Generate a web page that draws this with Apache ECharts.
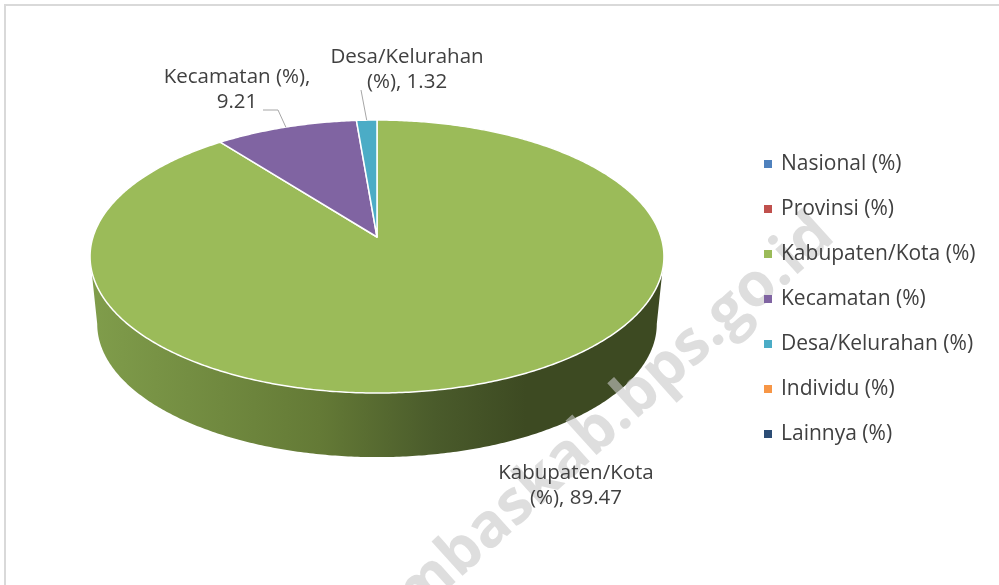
<!DOCTYPE html>
<html>
<head>
<meta charset="utf-8">
<script src="https://cdn.jsdelivr.net/npm/echarts@6/dist/echarts.min.js"></script>
<style>
  html, body { margin: 0; padding: 0; background: #fff; }
  #chart { width: 999px; height: 585px; }
</style>
</head>
<body>
<div id="chart"></div>
<script type="text/javascript">
  // data
  var categories = ['Nasional (%)', 'Provinsi (%)', 'Kabupaten/Kota (%)', 'Kecamatan (%)', 'Desa/Kelurahan (%)', 'Individu (%)', 'Lainnya (%)'];
  var shares = [0, 0, 89.47, 9.21, 1.32, 0, 0];
  var palette = ['#4f81bd', '#c0504d', '#9bbb59', '#8064a2', '#4bacc6', '#f79646', '#2c4d75'];

  // 3d pie geometry (screen px)
  var geo = { cx: 377, cy: 237, rx: 284, ry: 133.7, persp: 0.143, cyBottom: 305, kBottom: 0.975 };
  // data label placement: centre of text block, words on first line, leader start
  var labelLayout = {
    'Kabupaten/Kota (%)': { x: 576, y: 486, firstLine: 1 },
    'Kecamatan (%)': { x: 237, y: 90, firstLine: 2, line: [[263, 110], [278, 110]] },
    'Desa/Kelurahan (%)': { x: 407, y: 70, firstLine: 1, line: [[361, 90]] }
  };

  var total = shares.reduce(function (a, b) { return a + b; }, 0);
  var cum = [];
  var acc = 0;
  shares.forEach(function (v) { cum.push(acc); acc += v; });

  var pieData = categories.map(function (n, i) {
    return { name: n, value: [shares[i], cum[i]] };
  });

  function proj(t, bottom) {
    var u = Math.sin(t), v = Math.cos(t);
    var k = bottom ? geo.kBottom : 1;
    var s = 1 / (1 + geo.persp * v);
    return [geo.cx + geo.rx * k * u * s, (bottom ? geo.cyBottom : geo.cy) - geo.ry * k * v * s];
  }

  function arc(t1, t2, bottom) {
    var n = Math.max(2, Math.ceil(Math.abs(t2 - t1) / 0.01));
    var pts = [];
    for (var i = 0; i <= n; i++) pts.push(proj(t1 + (t2 - t1) * i / n, bottom));
    return pts;
  }

  function angles(api) {
    var v = api.value(0), start = api.value(1);
    return [start / total * Math.PI * 2, (start + v) / total * Math.PI * 2, v];
  }

  var sideFill = new echarts.graphic.LinearGradient(0, 0, 1, 0, [
    { offset: 0, color: '#809d4b' },
    { offset: 0.4, color: '#647a36' },
    { offset: 0.6, color: '#4a5b2b' },
    { offset: 0.76, color: '#3d4a22' },
    { offset: 1, color: '#3d4a22' }
  ]);

  function renderSlice(params, api) {
    var ang = angles(api);
    if (!ang[2]) return null;
    var t1 = ang[0], t2 = ang[1];
    var children = [];

    // visible front wall
    var vis1 = Math.acos(-geo.persp), vis2 = Math.PI * 2 - vis1;
    var a = Math.max(t1, vis1), b = Math.min(t2, vis2);
    if (b > a) {
      var side = arc(a, b, false).concat(arc(b, a, true));
      children.push({ type: 'polygon', z2: 1, shape: { points: side }, style: { fill: sideFill } });
    }

    // top face
    var top = [[geo.cx, geo.cy]].concat(arc(t1, t2, false));
    children.push({ type: 'polygon', z2: 10, shape: { points: top },
      style: { fill: palette[params.dataIndex], stroke: '#ffffff', lineWidth: 1.5, lineJoin: 'round' } });
    return { type: 'group', children: children };
  }

  function renderLabel(params, api) {
    var ang = angles(api);
    var name = categories[params.dataIndex];
    var lay = labelLayout[name];
    if (!ang[2] || !lay) return null;
    var words = (name + ', ' + ang[2].toFixed(2)).split(' ');
    var text = words.slice(0, lay.firstLine).join(' ') + '\n' + words.slice(lay.firstLine).join(' ');
    var children = [{ type: 'text', x: lay.x, y: lay.y,
      style: { text: text, fill: '#404040', fontFamily: 'Open Sans', fontSize: 20.5, lineHeight: 25,
        align: 'center', verticalAlign: 'middle' } }];
    if (lay.line) {
      var mid = proj((ang[0] + ang[1]) / 2, false);
      children.push({ type: 'polyline', shape: { points: lay.line.concat([mid]) },
        style: { stroke: '#a6a6a6', lineWidth: 1, fill: null } });
    }
    return { type: 'group', children: children };
  }

  var chart = echarts.init(document.getElementById('chart'));
  var option = {
    animation: false,
    color: palette,
    legend: {
      orient: 'vertical',
      left: 759,
      top: 147,
      z: 6,
      icon: 'rect',
      itemWidth: 8,
      itemHeight: 8,
      itemGap: 21,
      selectedMode: false,
      data: categories,
      textStyle: { fontFamily: 'Open Sans', fontSize: 21, color: '#404040', lineHeight: 24, padding: [0, 0, 0, 4] }
    },
    graphic: [
      { type: 'rect', z: -1, shape: { x: 5, y: 5, width: 1100, height: 1100 },
        style: { fill: 'transparent', stroke: '#d9d9d9', lineWidth: 2 } },
      // site watermark: above the pie, below texts
      { type: 'text', z: 3, x: 825, y: 226, rotation: 42 * Math.PI / 180, silent: true,
        style: { text: 'humbaskab.bps.go.id', fontFamily: 'Open Sans', fontWeight: 'bold', fontSize: 61,
          fill: 'rgba(200,200,200,0.6)', align: 'right', verticalAlign: 'middle' } }
    ],
    series: [
      {
        type: 'custom',
        name: 'slices',
        coordinateSystem: 'none',
        z: 2,
        silent: true,
        renderItem: renderSlice,
        data: pieData
      },
      {
        type: 'custom',
        name: 'labels',
        coordinateSystem: 'none',
        z: 5,
        silent: true,
        renderItem: renderLabel,
        data: pieData
      },
      {
        // carries the legend entries
        type: 'pie',
        silent: true,
        radius: [0, 0],
        center: [-50, -50],
        label: { show: false },
        labelLine: { show: false },
        data: categories.map(function (n, i) { return { name: n, value: shares[i] }; })
      }
    ]
  };
  chart.setOption(option);
</script>
</body>
</html>
